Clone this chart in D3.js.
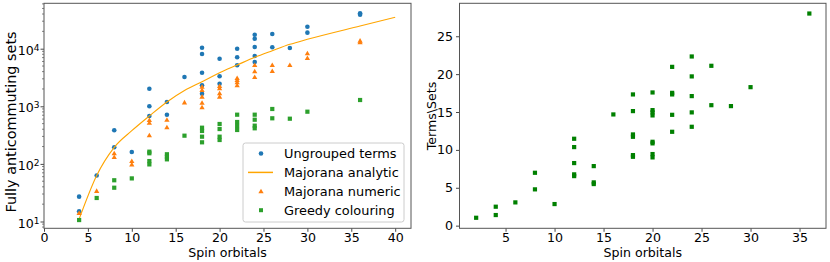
<!DOCTYPE html>
<html>
<head>
<meta charset="utf-8">
<script src="https://cdn.jsdelivr.net/npm/d3@7/dist/d3.min.js"></script>
<style>
  body { margin: 0; background: #fff; }
  svg { display: block; font-family: 'DejaVu Sans', sans-serif; }
</style>
</head>
<body>
<svg id="chart" width="830" height="262"></svg>
<script>
// Left panel: fully anticommuting sets vs spin orbitals (log scale)
var ungroupedX = [4, 4, 6, 8, 8, 10, 12, 12, 12, 14, 14, 16, 18, 18, 18, 18, 18,
  20, 20, 20, 22, 22, 22, 24, 24, 24, 24, 24, 26, 26, 28, 30, 30, 36, 36]
var ungroupedY = [27, 15, 63, 383, 194, 161, 2020, 1000, 679, 1190, 715, 3230,
  10400, 8090, 3830, 2320, 1650, 6700, 3320, 2470, 10000, 7090, 5150,
  17500, 14900, 10700, 7470, 5880, 18000, 10600, 10300, 24100, 19000, 41200, 38900]

var numericX = [4, 6, 8, 8, 10, 10, 12, 12, 12, 14, 14, 16, 18, 18, 18, 18, 18,
  20, 20, 20, 20, 22, 22, 22, 22, 24, 24, 24, 26, 26, 28, 30, 30, 36, 36]
var numericY = [14, 34, 153, 132, 112, 98, 578, 519, 314, 585, 432, 1170,
  2190, 1920, 1470, 1155, 961, 2250, 2050, 1680, 1470, 3100, 2860, 2610, 2320,
  5210, 4050, 3230, 5210, 4100, 5210, 8320, 6900, 13800, 12900]

var greedyX = [4, 6, 8, 8, 10, 12, 12, 12, 12, 14, 14, 14, 16, 18, 18, 18, 18,
  20, 20, 20, 20, 22, 22, 22, 22, 24, 24, 24, 24, 26, 26, 28, 30, 36]
var greedyY = [10.6, 25.6, 52, 38.6, 56, 163, 153, 112, 98, 147, 133, 120, 309,
  425, 373, 297, 237, 493, 403, 297, 260, 715, 534, 455, 388,
  715, 585, 461, 415, 898, 619, 609, 806, 1286]

var analyticX = [4, 6, 8, 10, 12, 14, 16, 18, 20, 22, 24, 26, 28, 30, 36, 40]
var analyticY = [11, 63, 194, 377, 680, 1190, 1880, 2670, 3830, 5210, 7090,
  9230, 11900, 14560, 24800, 35100]

// Right panel: terms per set
var ratioX = [2, 4, 4, 6, 8, 8, 10, 12, 12, 12, 12, 12, 14, 14, 14, 16,
  18, 18, 18, 18, 18, 18, 20, 20, 20, 20, 20, 20, 20, 20,
  22, 22, 22, 22, 22, 24, 24, 24, 24, 24, 26, 26, 28, 30, 36]
var ratioY = [1.04, 2.5, 1.4, 3.07, 6.98, 4.79, 2.85, 11.47, 10.37, 8.26, 6.77, 6.54,
  7.86, 5.71, 5.49, 14.68, 17.32, 15.12, 12.04, 11.73, 9.31, 9.09,
  17.58, 15.25, 14.95, 14.55, 11.07, 10.86, 9.45, 9.01,
  20.96, 17.53, 17.32, 14.63, 12.39, 22.33, 19.7, 17.1, 14.95, 13.05,
  21.1, 15.9, 15.78, 18.28, 28.0]

var leftXTicks = [0, 5, 10, 15, 20, 25, 30, 35, 40]
var leftYTicks = [10, 100, 1000, 10000]
var rightXTicks = [5, 10, 15, 20, 25, 30, 35]
var rightYTicks = [0, 5, 10, 15, 20, 25]

var legendLabels = ['Ungrouped terms', 'Majorana analytic', 'Majorana numeric', 'Greedy colouring']

var C = {
  blue: '#1f77b4',
  orange: '#ff7f0e',
  line: '#ffa500',
  green: '#2ca02c',
  dark: 'green',
  spine: '#555'
}
var fs = 12.6

var svg = d3.select('#chart')

function zip(xs, ys) {
  return xs.map(function (x, i) { return [x, ys[i]] })
}

function drawFrame(g, x, y) {
  var r = x.range(), b = y.range()
  g.append('rect')
    .attr('x', r[0]).attr('y', b[1])
    .attr('width', r[1] - r[0]).attr('height', b[0] - b[1])
    .attr('fill', 'none')
    .attr('stroke', C.spine)
    .attr('stroke-width', 1)
}

function styleAxis(ax) {
  ax.select('.domain').remove()
  ax.selectAll('.tick line').attr('stroke', '#333').attr('stroke-width', 0.9)
  ax.selectAll('.tick text')
    .attr('fill', '#000')
    .attr('font-size', fs)
    .attr('font-family', 'DejaVu Sans, sans-serif')
}

function circle(g, pts, x, y, color) {
  g.selectAll(null).data(pts).enter().append('circle')
    .attr('cx', function (d) { return x(d[0]) })
    .attr('cy', function (d) { return y(d[1]) })
    .attr('r', 2.3)
    .attr('fill', color)
}

function square(g, pts, x, y, color, s) {
  g.selectAll(null).data(pts).enter().append('rect')
    .attr('x', function (d) { return x(d[0]) - s / 2 })
    .attr('y', function (d) { return y(d[1]) - s / 2 })
    .attr('width', s).attr('height', s)
    .attr('fill', color)
}

var tri = d3.symbol().type(d3.symbolTriangle).size(12)

function triangle(g, pts, x, y, color) {
  g.selectAll(null).data(pts).enter().append('path')
    .attr('d', tri)
    .attr('transform', function (d) { return 'translate(' + x(d[0]) + ',' + (y(d[1]) + 0.5) + ')' })
    .attr('fill', color)
}

// ---------- left panel ----------
var lx = d3.scaleLinear().domain([0, 41.8]).range([44, 411])
var ly = d3.scaleLog().domain([7.62, 61400]).range([228.3, 3.3])

var left = svg.append('g')

var lxAxis = left.append('g')
  .attr('transform', 'translate(0,228.3)')
  .call(d3.axisBottom(lx).tickValues(leftXTicks).tickSize(3.5).tickPadding(1.5).tickFormat(d3.format('d')))
styleAxis(lxAxis)

// minor log ticks
var minor = []
for (var k = 1; k <= 4; k++) {
  for (var m = 2; m <= 9; m++) {
    var v = m * Math.pow(10, k - 1)
    if (v > 7.62 && v < 61400) minor.push(v)
  }
}
for (m = 2; m <= 6; m++) minor.push(m * 10000)
left.append('g').selectAll('line').data(minor).enter().append('line')
  .attr('x1', 44).attr('x2', 42)
  .attr('y1', function (d) { return ly(d) }).attr('y2', function (d) { return ly(d) })
  .attr('stroke', '#333').attr('stroke-width', 0.6)

var lyAxis = left.append('g')
  .attr('transform', 'translate(44,0)')
  .call(d3.axisLeft(ly).tickValues(leftYTicks).tickSize(3.5).tickPadding(3).tickFormat(''))
styleAxis(lyAxis)
lyAxis.selectAll('.tick').each(function (d) {
  var t = d3.select(this).select('text')
  t.attr('x', -4.5).attr('dy', '0.45em')
  t.append('tspan').text('10')
  t.append('tspan').attr('dy', '-0.45em').attr('font-size', fs * 0.72).text(Math.round(Math.log10(d)))
})

var line = d3.line()
  .x(function (d) { return lx(d[0]) })
  .y(function (d) { return ly(d[1]) })
  .curve(d3.curveMonotoneX)

circle(left, zip(ungroupedX, ungroupedY), lx, ly, C.blue)
left.append('path')
  .datum(zip(analyticX, analyticY))
  .attr('d', line)
  .attr('fill', 'none')
  .attr('stroke', C.line)
  .attr('stroke-width', 1.1)
triangle(left, zip(numericX, numericY), lx, ly, C.orange)
square(left, zip(greedyX, greedyY), lx, ly, C.green, 4.2)

drawFrame(left, lx, ly)

left.append('text')
  .attr('x', 227.5).attr('y', 256.5)
  .attr('text-anchor', 'middle').attr('font-size', fs)
  .text('Spin orbitals')
left.append('text')
  .attr('transform', 'translate(15.5,122) rotate(-90)')
  .attr('text-anchor', 'middle').attr('font-size', 14.4)
  .text('Fully anticommuting sets')

// legend
var lg = left.append('g').attr('transform', 'translate(243,143)')
lg.append('rect')
  .attr('width', 161).attr('height', 79).attr('rx', 2.5)
  .attr('fill', '#fff').attr('fill-opacity', 0.8)
  .attr('stroke', '#ccc').attr('stroke-width', 1)
legendLabels.forEach(function (label, i) {
  var cy = 10.5 + i * 18.9
  var row = lg.append('g').attr('transform', 'translate(0,' + cy + ')')
  if (i === 0) row.append('circle').attr('cx', 18).attr('r', 2.3).attr('fill', C.blue)
  if (i === 1) row.append('line').attr('x1', 5).attr('x2', 30).attr('stroke', C.line).attr('stroke-width', 1.5)
  if (i === 2) row.append('path').attr('d', tri).attr('transform', 'translate(18,0.5)').attr('fill', C.orange)
  if (i === 3) row.append('rect').attr('x', 16).attr('y', -2).attr('width', 4).attr('height', 4).attr('fill', C.green)
  row.append('text').attr('x', 41).attr('y', 4.6).attr('font-size', 12.9).text(label)
})

// ---------- right panel ----------
var rx = d3.scaleLinear().domain([0.3, 37.7]).range([459.5, 826])
var ry = d3.scaleLinear().domain([-0.35, 29.35]).range([228.3, 3.3])

var right = svg.append('g')
var rxAxis = right.append('g')
  .attr('transform', 'translate(0,228.3)')
  .call(d3.axisBottom(rx).tickValues(rightXTicks).tickSize(3.5).tickPadding(1.5))
styleAxis(rxAxis)
var ryAxis = right.append('g')
  .attr('transform', 'translate(459.5,0)')
  .call(d3.axisLeft(ry).tickValues(rightYTicks).tickSize(3.5).tickPadding(3))
styleAxis(ryAxis)

square(right, zip(ratioX, ratioY), rx, ry, C.dark, 4.2)
drawFrame(right, rx, ry)

right.append('text')
  .attr('x', 642.75).attr('y', 256.5)
  .attr('text-anchor', 'middle').attr('font-size', fs)
  .text('Spin orbitals')
right.append('text')
  .attr('transform', 'translate(436,116) rotate(-90)')
  .attr('text-anchor', 'middle').attr('font-size', fs)
  .text('Terms\\Sets')
</script>
</body>
</html>
